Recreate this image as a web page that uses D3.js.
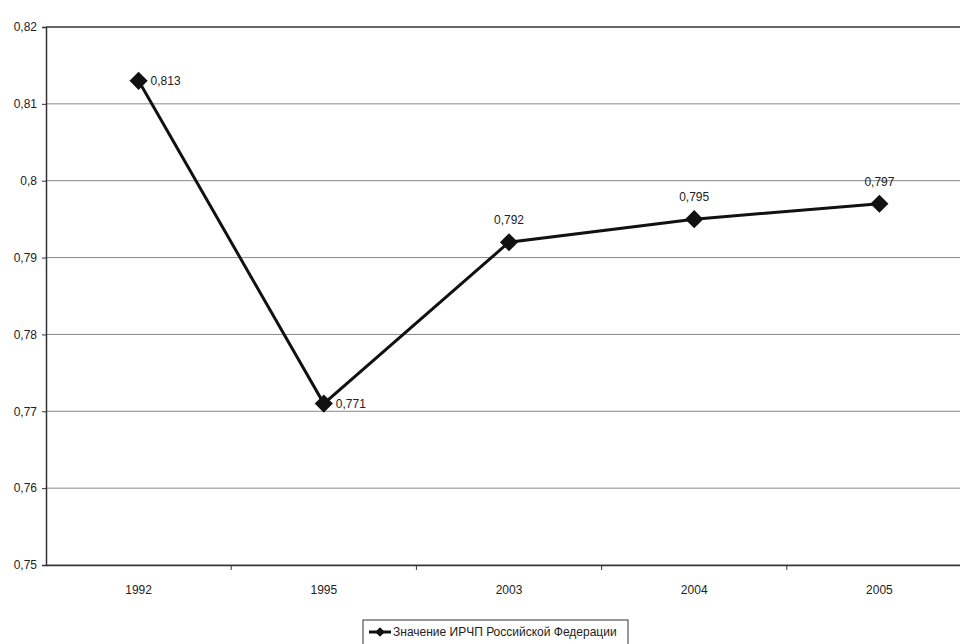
<!DOCTYPE html>
<html><head><meta charset="utf-8">
<script src="https://cdn.jsdelivr.net/npm/d3@7"></script>
<style>
body{margin:0;background:#fff;}
text{font-family:"Liberation Sans Narrow","Liberation Sans",Arial,sans-serif;}
</style></head>
<body>
<svg id="c" width="960" height="644"></svg>
<script>
const categories = ["1992","1995","2003","2004","2005"];
const values = [0.813,0.771,0.792,0.795,0.797];
const valueLabels = ["0,813","0,771","0,792","0,795","0,797"];
const yTicks = [0.75,0.76,0.77,0.78,0.79,0.80,0.81,0.82];
const yTickLabels = ["0,75","0,76","0,77","0,78","0,79","0,8","0,81","0,82"];
const seriesName = "Значение ИРЧП Российской Федерации";
const labelSide = ["right","right","top","top","top"];

const svg = d3.select("#c");
const L = 46, R = 972, T = 27, B = 565;
const x = d3.scaleBand().domain(categories).range([L, R]);
const y = d3.scaleLinear().domain([0.75, 0.82]).range([B, T]);

// gridlines
svg.append("g").selectAll("line").data(yTicks).join("line")
  .attr("x1", L).attr("x2", R).attr("y1", d => y(d)).attr("y2", d => y(d))
  .attr("stroke", d => d === 0.82 ? "#333" : "#888").attr("stroke-width", d => d === 0.82 ? 1.5 : 1);

// y axis
const ya = svg.append("g").attr("transform", `translate(${L},0)`)
  .call(d3.axisLeft(y).tickValues(yTicks).tickSize(4).tickFormat((d,i) => yTickLabels[i]));
ya.select(".domain").attr("stroke", "#333").attr("stroke-width", 1.5);
ya.selectAll("line").attr("stroke", "#333");
ya.selectAll("text").attr("font-size", 12).attr("fill", "#222").attr("dx", -2)
  .attr("font-family", "'Liberation Sans Narrow','Liberation Sans',Arial,sans-serif");

// x axis
const xa = svg.append("g").attr("transform", `translate(0,${B})`)
  .call(d3.axisBottom(x).tickSize(0).tickPadding(20));
xa.select(".domain").attr("stroke", "#333").attr("stroke-width", 1.5);
xa.selectAll("text").attr("font-size", 12).attr("fill", "#222")
  .attr("font-family", "'Liberation Sans Narrow','Liberation Sans',Arial,sans-serif");
// band boundary ticks
svg.append("g").selectAll("line").data(categories.slice(1)).join("line")
  .attr("x1", d => x(d)).attr("x2", d => x(d)).attr("y1", B).attr("y2", B + 5)
  .attr("stroke", "#333");

const cx = d => x(d) + x.bandwidth() / 2;

// line
const line = d3.line().x((d,i) => cx(categories[i])).y(d => y(d));
svg.append("path").datum(values).attr("d", line)
  .attr("fill", "none").attr("stroke", "#111").attr("stroke-width", 3);

// markers
const diamond = d3.symbol().type(d3.symbolDiamond2).size(210);
svg.append("g").selectAll("path").data(values).join("path")
  .attr("transform", (d,i) => `translate(${cx(categories[i])},${y(d)})`)
  .attr("d", diamond).attr("fill", "#111");

// data labels
svg.append("g").selectAll("text").data(values).join("text")
  .attr("x", (d,i) => labelSide[i] === "right" ? cx(categories[i]) + 12 : cx(categories[i]))
  .attr("y", (d,i) => labelSide[i] === "right" ? y(d) + 4 : y(d) - 18)
  .attr("text-anchor", (d,i) => labelSide[i] === "right" ? "start" : "middle")
  .attr("font-size", 12).attr("fill", "#222")
  .text((d,i) => valueLabels[i]);

// legend
const lg = svg.append("g").attr("transform", "translate(363,620)");
lg.append("rect").attr("width", 265).attr("height", 30).attr("fill", "#fff").attr("stroke", "#333");
lg.append("line").attr("x1", 6).attr("x2", 28).attr("y1", 12).attr("y2", 12).attr("stroke", "#111").attr("stroke-width", 3);
lg.append("path").attr("transform", "translate(17,12)").attr("d", d3.symbol().type(d3.symbolDiamond2).size(60)).attr("fill", "#111");
lg.append("text").attr("x", 30).attr("y", 16).attr("font-size", 12).attr("fill", "#222").text(seriesName);
</script>
</body></html>
